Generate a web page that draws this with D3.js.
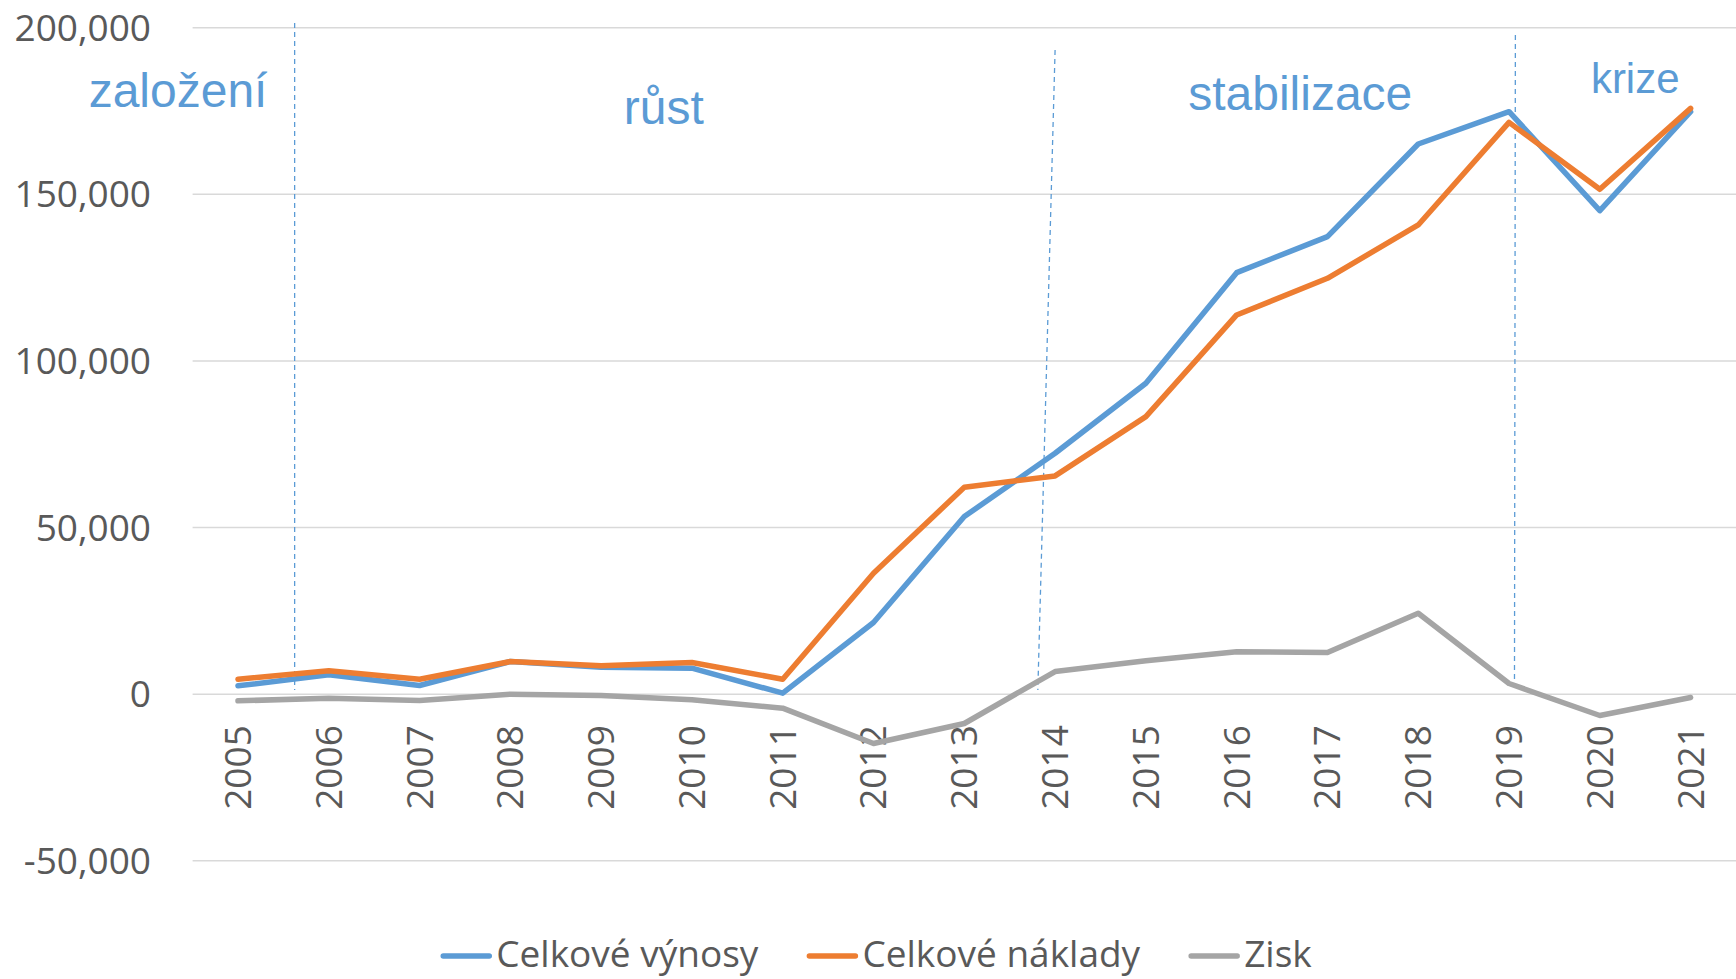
<!DOCTYPE html>
<html>
<head>
<meta charset="utf-8">
<script src="https://cdn.jsdelivr.net/npm/d3@7"></script>
<style>
  html, body { margin: 0; padding: 0; background: #fff; }
  svg { display: block; }
</style>
</head>
<body>
<svg id="chart" width="1736" height="979"></svg>
<script>
// ---- data ----
const years = ["2005","2006","2007","2008","2009","2010","2011","2012","2013","2014","2015","2016","2017","2018","2019","2020","2021"];
const vynosy  = [2500, 5800, 2600, 9800, 8100, 7800, 300, 21500, 53300, 72300, 93300, 126500, 137300, 165100, 174800, 145100, 174800];
const naklady = [4500, 7000, 4500, 9800, 8500, 9500, 4500, 36300, 62100, 65500, 83300, 113800, 124800, 140800, 171600, 151500, 175800];
const zisk    = [-2000, -1200, -1900, 0, -400, -1700, -4200, -14800, -8800, 6800, 10000, 12700, 12500, 24300, 3200, -6400, -1000];
const seriesNames = ["Celkové výnosy", "Celkové náklady", "Zisk"];
const yTicks = [-50000, 0, 50000, 100000, 150000, 200000];
// phase labels: [text, category index position, value at baseline]
const phaseLabels = ["založení", "růst", "stabilizace", "krize"];
const phaseLabelX = [-0.66, 4.69, 11.70, 15.39];
const phaseLabelY = [176200, 171100, 175300, 180400];
const phaseLabelSize = [48, 48, 48, 42];
// phase dividers: category index at top/bottom, value at top/bottom
const dividerX1 = [0.624, 9.0, 14.07];
const dividerX2 = [0.624, 8.81, 14.06];
const dividerY1 = [201400, 193300, 197800];
const dividerY2 = [1260, 1260, 3400];

// ---- layout ----
const W = 1736, H = 979;
const plotLeft = 192.6, plotRight = 1736, plotTop = 27.7, plotBottom = 860.8;
const colors = ["#5B9BD5", "#ED7D31", "#A5A5A5"];
const textColor = "#595959";
const axisFont = "'Open Sans', 'Noto Sans', sans-serif";
const annoFont = "'Liberation Sans', Arial, sans-serif";

const svg = d3.select("#chart");

const x = d3.scaleBand().domain(years).range([plotLeft, plotRight]).padding(0);
const xc = d => x(d) + x.bandwidth() / 2;
const xi = d3.scaleLinear().domain([0, years.length - 1]).range([xc(years[0]), xc(years[years.length - 1])]);
const y = d3.scaleLinear().domain([-50000, 200000]).range([plotBottom, plotTop]);

// gridlines
svg.append("g").selectAll("line").data(yTicks).join("line")
  .attr("x1", plotLeft).attr("x2", plotRight)
  .attr("y1", d => y(d)).attr("y2", d => y(d))
  .attr("stroke", "#D9D9D9").attr("stroke-width", 1.5);

// y axis labels
const fmt = d3.format(",");
svg.append("g").selectAll("text").data(yTicks).join("text")
  .attr("x", 151).attr("y", d => y(d)).attr("dy", "0.35em")
  .attr("text-anchor", "end")
  .attr("font-family", axisFont).attr("font-size", 37).attr("fill", textColor)
  .text(d => fmt(d).replace("\u2212", "-"));

// x axis labels (rotated)
svg.append("g").selectAll("text").data(years).join("text")
  .attr("transform", d => `translate(${xc(d)},${y(0) + 31}) rotate(-90)`)
  .attr("dy", "0.35em")
  .attr("text-anchor", "end")
  .attr("font-family", axisFont).attr("font-size", 37).attr("fill", textColor)
  .text(d => d);

// phase dividers
svg.append("g").selectAll("line").data(dividerX1).join("line")
  .attr("x1", (d, i) => xi(dividerX1[i])).attr("x2", (d, i) => xi(dividerX2[i]))
  .attr("y1", (d, i) => y(dividerY1[i])).attr("y2", (d, i) => y(dividerY2[i]))
  .attr("stroke", "#5B9BD5").attr("stroke-width", 1.3)
  .attr("stroke-dasharray", "5,4");

// phase labels
svg.append("g").selectAll("text").data(phaseLabels).join("text")
  .attr("x", (d, i) => xi(phaseLabelX[i])).attr("y", (d, i) => y(phaseLabelY[i]))
  .attr("text-anchor", "middle")
  .attr("font-family", annoFont).attr("font-size", (d, i) => phaseLabelSize[i])
  .attr("fill", "#5B9BD5")
  .text(d => d);

// lines
const series = [vynosy, naklady, zisk];
const line = d3.line().x((d, i) => xc(years[i])).y(d => y(d));
svg.append("g").selectAll("path").data(series).join("path")
  .attr("d", d => line(d))
  .attr("fill", "none")
  .attr("stroke", (d, i) => colors[i])
  .attr("stroke-width", 5.5)
  .attr("stroke-linejoin", "round")
  .attr("stroke-linecap", "round");

// legend
const legend = svg.append("g");
let cx = 0;
const legY = 956;
seriesNames.forEach((name, i) => {
  legend.append("line")
    .attr("x1", cx + 3).attr("x2", cx + 49)
    .attr("y1", legY).attr("y2", legY)
    .attr("stroke", colors[i]).attr("stroke-width", 5.5).attr("stroke-linecap", "round");
  const t = legend.append("text")
    .attr("x", cx + 56).attr("y", legY + 11)
    .attr("font-family", axisFont).attr("font-size", 37).attr("fill", textColor)
    .text(name);
  const w = t.node().getComputedTextLength();
  cx += 56 + w + 48;
});
const totalW = cx - 48;
legend.attr("transform", `translate(${876 - totalW / 2},0)`);
</script>
</body>
</html>
